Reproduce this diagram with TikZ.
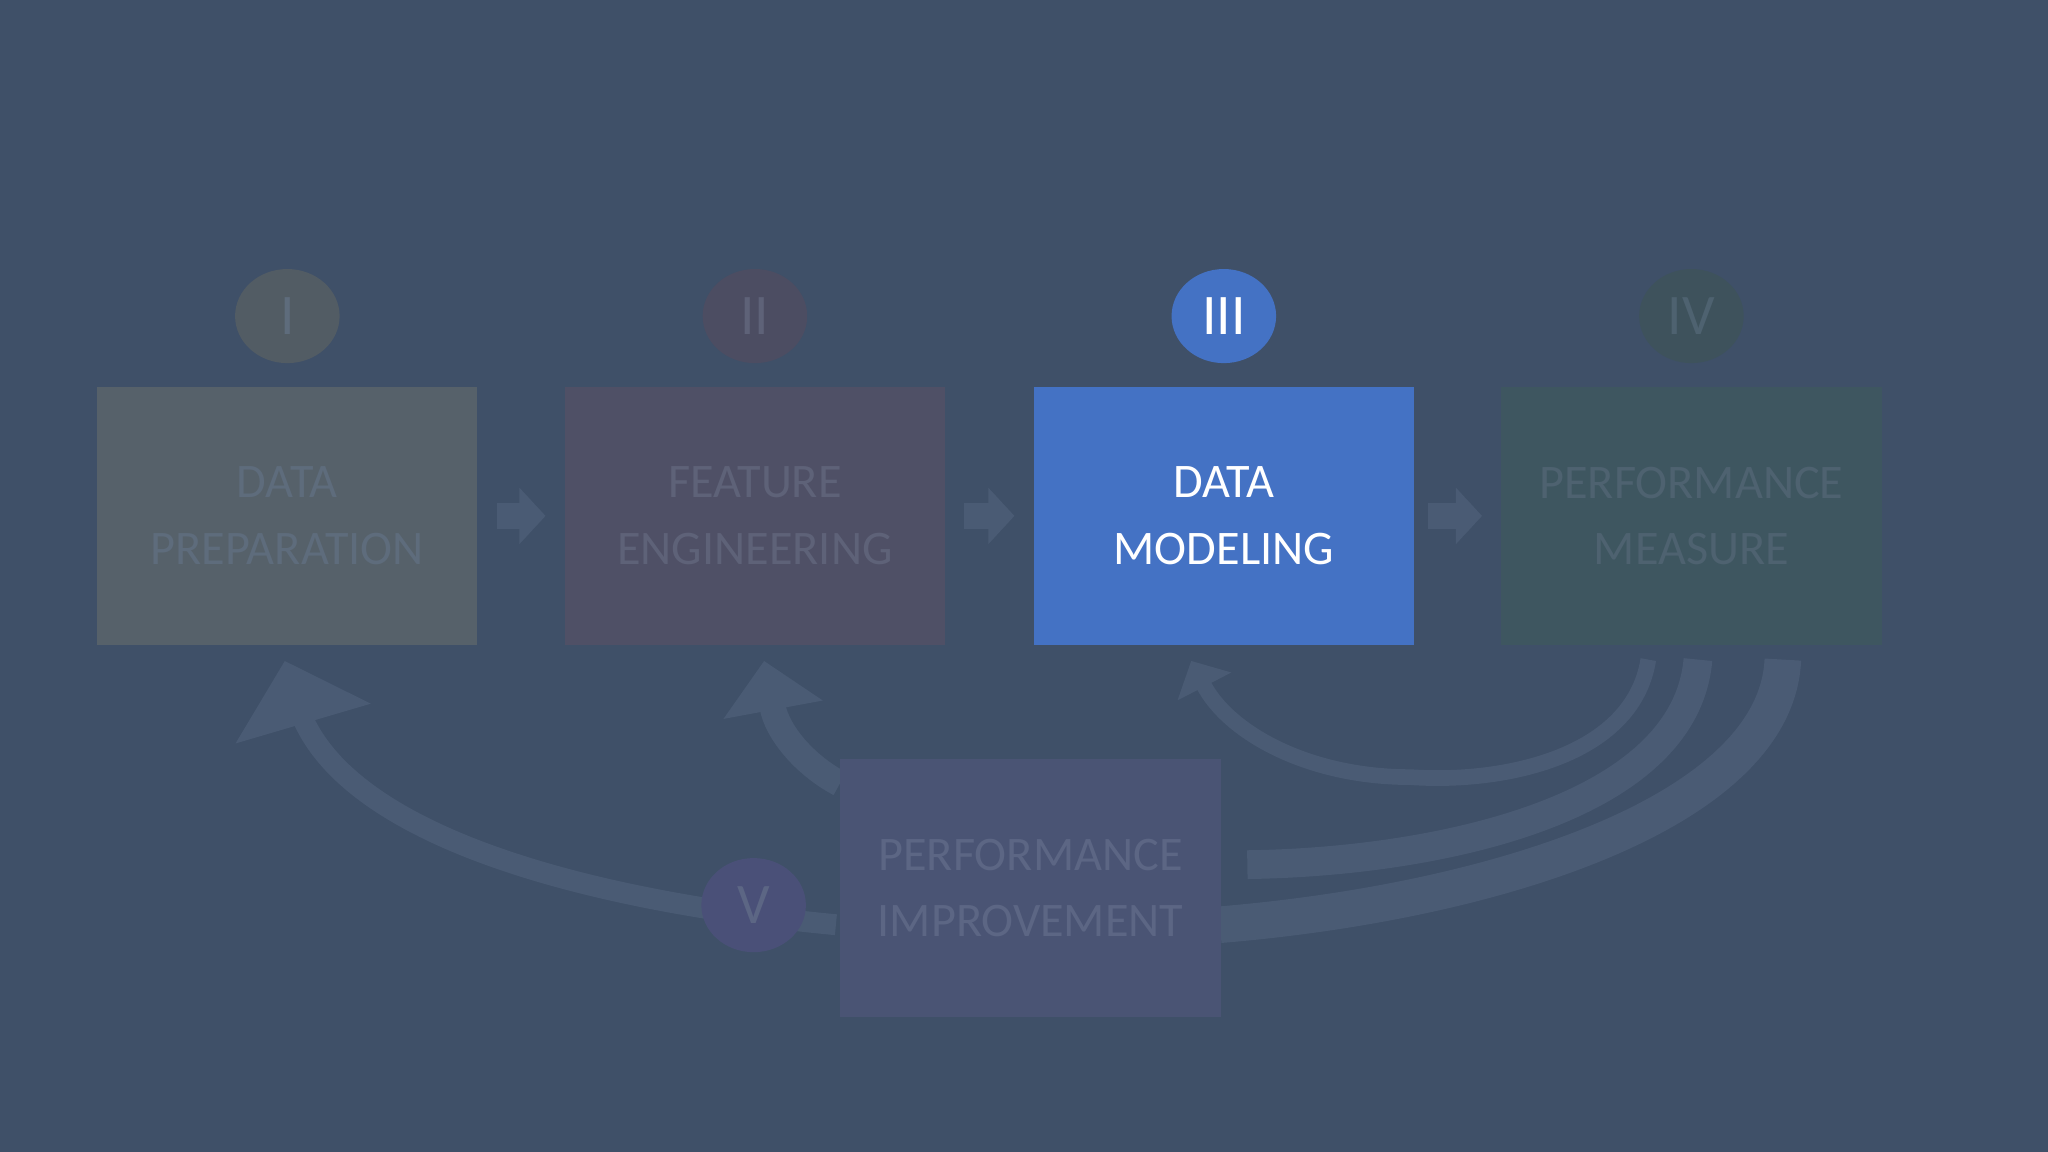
\documentclass[tikz,border=0pt]{standalone}
\usepackage{fontspec}
\setmainfont{Carlito}
\usetikzlibrary{arrows.meta,shapes.geometric}
\definecolor{bg}{HTML}{3F5068}
\definecolor{arrc}{HTML}{4A5B74}
\definecolor{boxa}{HTML}{56616A}
\definecolor{txta}{HTML}{5E6C7C}
\definecolor{boxb}{HTML}{4F5066}
\definecolor{txtb}{HTML}{5E6278}
\definecolor{circb}{HTML}{4C4D62}
\definecolor{circa}{HTML}{525C64}
\definecolor{blu}{HTML}{4472C4}
\definecolor{boxd}{HTML}{3E5660}
\definecolor{circd}{HTML}{3E525C}
\definecolor{txtd}{HTML}{4E6270}
\definecolor{boxe}{HTML}{4A5474}
\definecolor{circe}{HTML}{4A5078}
\definecolor{txte}{HTML}{5C6684}
\tikzset{
 stage/.style={minimum width=2.91cm,minimum height=1.97cm,inner sep=0pt,align=center,font=\fontsize{10.5}{14.5}\selectfont},
 badge/.style={ellipse,minimum width=0.8cm,minimum height=0.72cm,inner sep=0pt,font=\fontsize{12.5}{12.5}\selectfont},
 flow/.style={arrc,line width=0.2cm,-{Triangle[width=0.42cm,length=0.2cm]}},
 band/.style={arrc,line width=0.22cm,line cap=butt},
 bigtip/.style={arrc,line width=0.16cm,-{Triangle[width=1.05cm,length=0.5cm]}}
}
\begin{document}
\begin{tikzpicture}[x=0.01cm,y=-0.01cm]
\fill[bg] (0,0) rectangle (1568,882);
\useasboundingbox (0,0) rectangle (1568,882);
% curved arrows (behind)
\coordinate (t1) at (218,506);
\coordinate (t2) at (585,506);
\coordinate (t3) at (912,506);
\coordinate (s1) at (640,708);
\coordinate (s2) at (643,600);
\coordinate (u1) at (1262,505);
\coordinate (u2) at (1300,505);
\coordinate (u3) at (1365,505);
\coordinate (v2) at (955,662);
\coordinate (v3) at (934,708);
\draw[bigtip] (s1) .. controls (450,690) and (260,640) .. (228,540) -- (t1);
\draw[arrc,line width=0.2cm,-{Triangle[width=0.75cm,length=0.38cm]}] (s2) .. controls (615,585) and (595,560) .. (t2);
\draw[arrc,line width=0.12cm,-{Triangle[width=0.45cm,length=0.22cm]}] (u1) .. controls (1250,580) and (1150,600) .. (1080,595) .. controls (1000,595) and (940,560) .. (t3);
\draw[band] (u2) .. controls (1290,620) and (1100,660) .. (v2);
\draw[band,line width=0.28cm] (u3) .. controls (1360,620) and (1150,690) .. (v3);
% boxes
\node[stage,fill=boxa,text=txta] (a) at (220,395) {DATA\\PREPARATION};
\node[stage,fill=boxb,text=txtb] (b) at (578,395) {FEATURE\\ENGINEERING};
\node[stage,fill=blu,text=white] (c) at (937,395) {DATA\\MODELING};
\node[stage,fill=boxd,text=txtd] (d) at (1295,395) {PERFORMANCE\\MEASURE};
\node[stage,fill=boxe,text=txte] (e) at (789,680) {PERFORMANCE\\IMPROVEMENT};
% badges
\node[badge,fill=circa,text=txta] (ba) at (220,242) {I};
\node[badge,fill=circb,text=txtb] (bb) at (578,242) {II};
\node[badge,fill=blu,text=white] (bc) at (937,242) {III};
\node[badge,fill=circd,text=txtd] (bd) at (1295,242) {IV};
\node[badge,fill=circe,text=txte] (be) at (577,693) {V};
% forward arrows
\draw[flow] ([xshift=0.14cm]a.east) -- ([xshift=-0.14cm]b.west);
\draw[flow] ([xshift=0.14cm]b.east) -- ([xshift=-0.14cm]c.west);
\draw[flow] ([xshift=0.1cm]c.east) -- ([xshift=-0.14cm]d.west);
\end{tikzpicture}
\end{document}
